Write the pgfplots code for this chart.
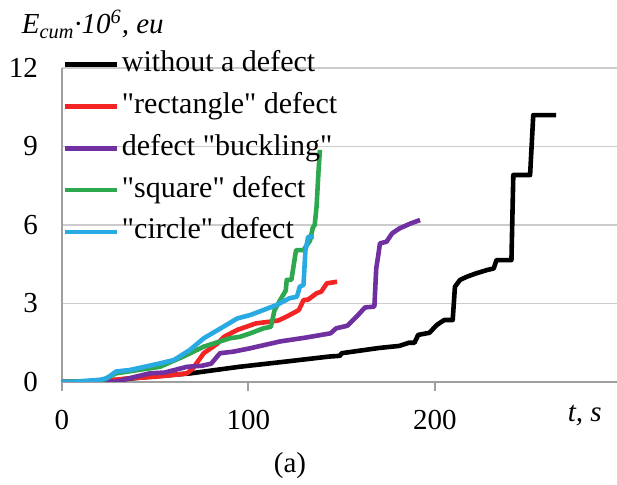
\documentclass[border=0pt]{standalone}
\usepackage{fontspec}
\setmainfont{Liberation Serif}[Ligatures=TeXOff]
\usepackage{pgfplots}
\pgfplotsset{compat=1.18}
\definecolor{cred}{HTML}{F22424}
\definecolor{cpurple}{HTML}{7030A0}
\definecolor{cgreen}{HTML}{2EA84E}
\definecolor{ccyan}{HTML}{2AAAE2}
\begin{document}
\begin{tikzpicture}
\begin{axis}[
  at={(0,0)}, anchor=origin,
  scale only axis, width=277.5pt, height=157pt,
  xmin=0, xmax=297.6, ymin=0, ymax=12,
  axis lines=left,
  x axis line style={-, gray!75, line width=1pt},
  y axis line style={-, gray!75, line width=1pt},
  xtick={0,100,200}, ytick={0,3,6,9,12},
  tick align=outside,
  x tick style={gray!75, line width=1pt},
  major tick length=4.5pt,
  y tick style={draw=none},
  ymajorgrids, major grid style={gray!40, line width=0.9pt},
  tick label style={font=\fontsize{14.5}{17}\selectfont},
  /pgf/number format/assume math mode=true,
  xticklabel style={yshift=-6pt},
  yticklabel style={xshift=-4pt},
  every axis x label/.style={at={(axis description cs:0.942,-0.108)}, anchor=center},
  xlabel={\fontsize{14.5}{17}\selectfont\textit{t, s}},
  every axis y label/.style={at={(axis description cs:-0.085,1.14)}, anchor=west},
  ylabel={\fontsize{14.5}{17}\selectfont\textit{E\textsubscript{cum}·10\textsuperscript{6}, eu}},
  legend style={at={(axis description cs:0.0,1.063)}, anchor=north west, draw=none, fill=none,
    font=\fontsize{15}{17}\selectfont, inner sep=0pt, row sep=4.9pt,
    nodes={inner sep=1.5pt, text height=10pt, text depth=3pt}},
  legend cell align=left,
  legend image code/.code={\draw[#1] (0pt,0pt) -- (26pt,0pt);},
  every axis plot/.append style={line width=2.3pt, line join=round},
]
\addplot[black] coordinates {(0,0)(20,0.02)(47,0.2)(69,0.33)(95,0.58)(120,0.78)(143,0.97)(149,1.0)(150,1.1)(170,1.3)(181,1.38)(186,1.5)(189,1.5)(191,1.8)(197,1.88)(201,2.18)(205,2.37)(209.5,2.37)(210.7,3.64)(213.4,3.9)(217,4.02)(222,4.15)(228,4.28)(231.5,4.34)(233,4.66)(241,4.66)(242,7.91)(251,7.91)(252.7,10.2)(265,10.2)};
\addlegendentry{without a defect}
\addplot[cred] coordinates {(0,0)(15,0)(28,0.08)(36,0.14)(50,0.2)(60,0.27)(67,0.33)(70,0.5)(73,0.8)(76,1.1)(83,1.45)(87,1.73)(94,1.99)(104,2.24)(111,2.3)(116,2.35)(120.5,2.5)(125.5,2.69)(127,2.75)(129.5,3.13)(132,3.15)(136.5,3.39)(139,3.45)(142,3.77)(147.5,3.83)};
\addlegendentry{"rectangle" defect}
\addplot[cpurple] coordinates {(0,0)(20,0)(30,0.02)(36,0.14)(47,0.33)(55,0.36)(67,0.58)(75,0.62)(80,0.7)(84.7,1.1)(92,1.16)(101,1.29)(117,1.55)(131,1.7)(144,1.86)(147,2.05)(153,2.15)(158,2.5)(162.5,2.85)(167.5,2.88)(168.5,4.34)(169.5,4.8)(170.5,5.3)(174,5.36)(177,5.68)(181,5.87)(187,6.06)(192,6.19)};
\addlegendentry{defect "buckling"}
\addplot[cgreen] coordinates {(0,0)(20,0.05)(22,0.08)(29,0.33)(40,0.45)(52.5,0.58)(65,0.97)(76,1.35)(90,1.67)(95.5,1.73)(101,1.86)(108,2.05)(112,2.11)(114,2.75)(117,3.13)(120,3.5)(120.5,3.9)(123,3.9)(125.5,5.04)(129.5,5.04)(131,5.2)(133,5.4)(134.5,5.9)(135.5,6.0)(136.5,6.7)(137.5,8)(138.3,8.87)};
\addlegendentry{"square" defect}
\addplot[ccyan] coordinates {(0,0)(5,0)(20,0.08)(24,0.14)(29,0.4)(36.5,0.46)(52.5,0.71)(60,0.84)(68.5,1.22)(76,1.67)(86.5,2.11)(94,2.43)(101,2.56)(108,2.75)(115,2.94)(122,3.2)(126,3.26)(127.5,3.64)(129.5,3.71)(130.5,5.0)(132,5.55)(135,5.55)};
\addlegendentry{"circle" defect}
\end{axis}
\node[font=\fontsize{14.5}{17}\selectfont] at (114pt,-42pt) {(a)};
\pgfresetboundingbox
\useasboundingbox (-31pt,-51.5pt) rectangle (277.5pt,191pt);
\end{tikzpicture}
\end{document}
